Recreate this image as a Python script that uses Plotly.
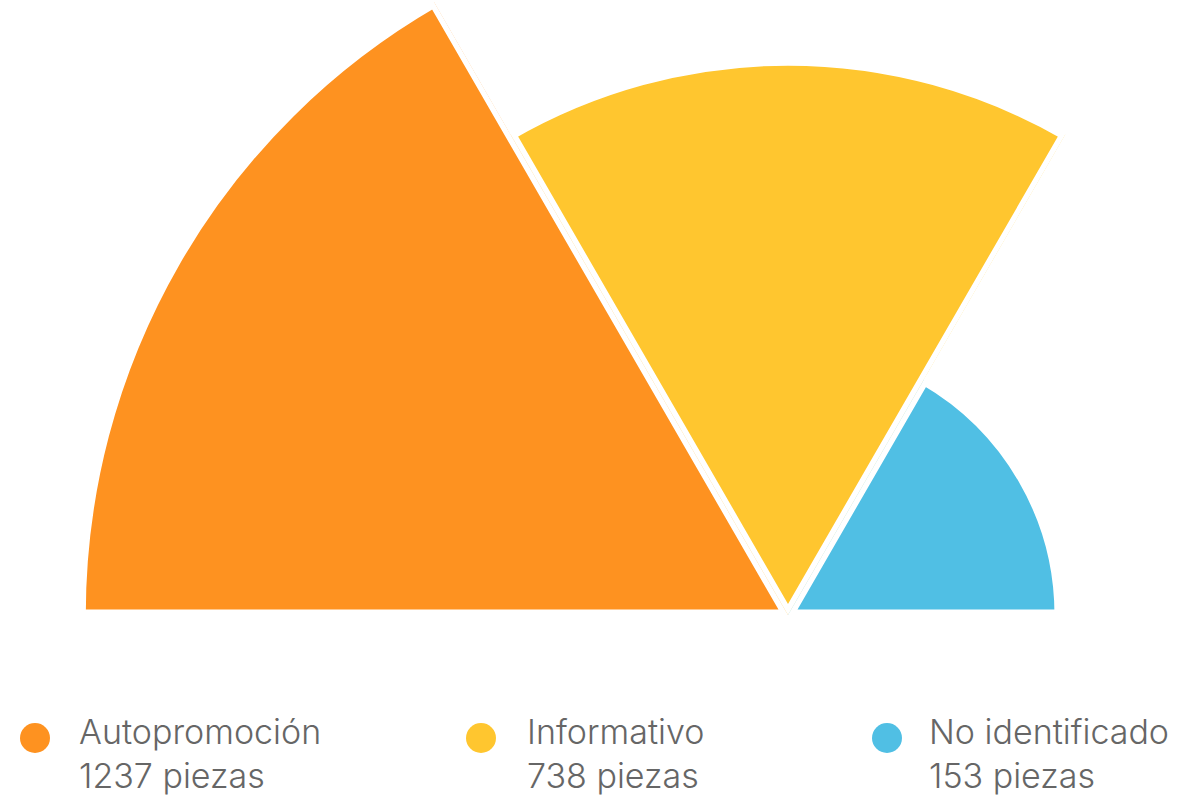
import numpy as np
import plotly.graph_objects as go

# ---- data ----
categories = ["Autopromoción", "Informativo", "No identificado"]
values = [1237, 738, 153]
count_labels = ["1237 piezas", "738 piezas", "153 piezas"]
colors = ["#FE9220", "#FFC62F", "#50BFE4"]
sectors = [[120, 180], [60, 120], [0, 60]]

# ---- layout constants ----
W, H = 1179, 798
CX, CY = 788, 615            # common centre of the rose (px)
PX_PER_UNIT = 19.11          # px per sqrt(value)
OFFSET_PX = 35.6             # radial offset (px)
polar_radius_px = [710, 560, 280]
GAP = 11
R_MIN = -OFFSET_PX / PX_PER_UNIT


def sector_bbox(a0, a1):
    angs = [a0, a1] + [a for a in (0, 90, 180, 270, 360) if a0 < a < a1]
    xs = [0.0] + [np.cos(np.radians(a)) for a in angs]
    ys = [0.0] + [np.sin(np.radians(a)) for a in angs]
    return min(xs), min(ys), max(xs), max(ys)


fig = go.Figure()
layout_polars = {}
for i, (cat, val, col, sec) in enumerate(zip(categories, values, colors, sectors)):
    name = "polar" if i == 0 else f"polar{i + 1}"
    R = polar_radius_px[i]
    bx0, by0, bx1, by1 = sector_bbox(*sec)
    xd = [max(0, (CX + R * bx0) / W), min(1, (CX + R * bx1) / W)]
    yd = [max(0, 1 - (CY - R * by0) / H), min(1, 1 - (CY - R * by1) / H)]
    fig.add_trace(go.Barpolar(
        r=[np.sqrt(val) - R_MIN],
        base=[R_MIN],
        theta=[(sec[0] + sec[1]) / 2],
        width=[sec[1] - sec[0]],
        name=cat,
        marker=dict(color=col, line=dict(color="white", width=GAP)),
        subplot=name,
        hoverinfo="skip",
    ))
    layout_polars[name] = dict(
        domain=dict(x=xd, y=yd),
        sector=sec,
        bgcolor="rgba(0,0,0,0)",
        radialaxis=dict(visible=False, range=[R_MIN, R_MIN + R / PX_PER_UNIT],
                        showgrid=False, showline=False, showticklabels=False),
        angularaxis=dict(visible=False, showgrid=False, showline=False,
                         showticklabels=False, direction="counterclockwise",
                         rotation=0),
    )

# ---- custom legend ----
dot_cx = [35, 481, 887]
text_x = [77, 525, 927]
DOT_Y, DOT_R = 738, 15
FONT = dict(family="Inter", size=34, color="#666666", weight=300)
shapes, annotations = [], []
for i, (cat, lab, col) in enumerate(zip(categories, count_labels, colors)):
    shapes.append(dict(type="circle", xref="paper", yref="paper",
                       x0=(dot_cx[i] - DOT_R) / W, x1=(dot_cx[i] + DOT_R) / W,
                       y0=1 - (DOT_Y + DOT_R) / H, y1=1 - (DOT_Y - DOT_R) / H,
                       fillcolor=col, line=dict(width=0)))
    annotations.append(dict(text=f"{cat}<br>{lab}", xref="paper", yref="paper",
                            x=text_x[i] / W, y=0, xanchor="left", align="left",
                            yanchor="bottom", showarrow=False, font=FONT))

fig.update_layout(
    width=W, height=H,
    margin=dict(l=0, r=0, t=0, b=0),
    paper_bgcolor="white", plot_bgcolor="white",
    showlegend=False,
    shapes=shapes, annotations=annotations,
    **layout_polars,
)

fig.write_html("out.html")
